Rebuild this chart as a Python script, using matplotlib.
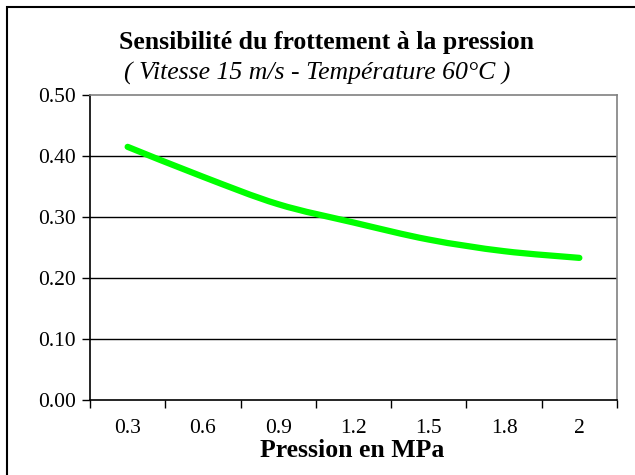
import matplotlib
matplotlib.use("Agg")
import matplotlib.pyplot as plt
import numpy as np
from matplotlib.path import Path
from matplotlib.patches import PathPatch, Rectangle

plt.rcParams['font.family'] = ['Liberation Serif', 'DejaVu Serif']

# Data
pressures = ['0.3', '0.6', '0.9', '1.2', '1.5', '1.8', '2']
friction = [0.415, 0.366, 0.321, 0.291, 0.263, 0.244, 0.233]

title = 'Sensibilité du frottement à la pression'
subtitle = '( Vitesse 15 m/s - Température 60°C )'
xlabel = 'Pression en MPa'
yticks = [0.0, 0.1, 0.2, 0.3, 0.4, 0.5]

fig = plt.figure(figsize=(6.35, 4.75), dpi=100)
ax = fig.add_axes([90 / 635, 75 / 475, 527 / 635, 305 / 475])

# category positions centred in each slot
xs = np.arange(len(pressures)) + 0.5
ys = np.array(friction)


# smoothed line (Excel-like) via cubic Bezier segments
def smooth_path(x, y, t=1 / 6):
    verts = [(x[0], y[0])]
    codes = [Path.MOVETO]
    n = len(x)
    for i in range(n - 1):
        p0 = (x[max(i - 1, 0)], y[max(i - 1, 0)])
        p1 = (x[i], y[i])
        p2 = (x[i + 1], y[i + 1])
        p3 = (x[min(i + 2, n - 1)], y[min(i + 2, n - 1)])
        c1 = (p1[0] + (p2[0] - p0[0]) * t, p1[1] + (p2[1] - p0[1]) * t)
        c2 = (p2[0] - (p3[0] - p1[0]) * t, p2[1] - (p3[1] - p1[1]) * t)
        verts += [c1, c2, p2]
        codes += [Path.CURVE4] * 3
    return Path(verts, codes)


ax.add_patch(PathPatch(smooth_path(xs, ys), facecolor='none', edgecolor='#00ff00',
                       lw=4.5, capstyle='round', zorder=3))

ax.set_xlim(0, len(pressures))
ax.set_ylim(0, 0.5)

ax.set_yticks(yticks)
ax.set_yticklabels(['%.2f' % v for v in yticks])
ax.set_xticks(np.arange(len(pressures) + 1))
ax.set_xticklabels([])
ax.set_xticks(xs, minor=True)
ax.set_xticklabels(pressures, minor=True)

ax.tick_params(axis='y', direction='out', length=6, width=1, labelsize=15.5, pad=4, colors='black')
ax.tick_params(axis='x', which='major', direction='out', length=6, width=1)
ax.tick_params(axis='x', which='minor', length=0, labelsize=15.5, pad=14)

for v in yticks[1:-1]:
    ax.axhline(v, color='black', lw=1, zorder=1)

ax.spines['top'].set_color('#808080')
ax.spines['right'].set_color('#808080')
ax.spines['left'].set_color('black')
ax.spines['bottom'].set_color('black')
for s in ax.spines.values():
    s.set_linewidth(1.2)

ax.text((352 - 90) / 527, (400 - 457) / 305, xlabel, transform=ax.transAxes,
        ha='center', va='baseline', fontsize=18.5, fontweight='bold')

fig.text(327 / 635, 1 - 43 / 475, title, ha='center', va='center',
         fontsize=18.5, fontweight='bold')
fig.text(317 / 635, 1 - 73 / 475, subtitle, ha='center', va='center',
         fontsize=18.5, fontstyle='italic')

# outer chart border (only left and top visible)
fig.patches.append(Rectangle((7 / 635, -0.1), 1.2, 1 - 7 / 475 + 0.1,
                             transform=fig.transFigure, fill=False,
                             edgecolor='black', lw=1.5))

fig.savefig('out.png', dpi=100)
